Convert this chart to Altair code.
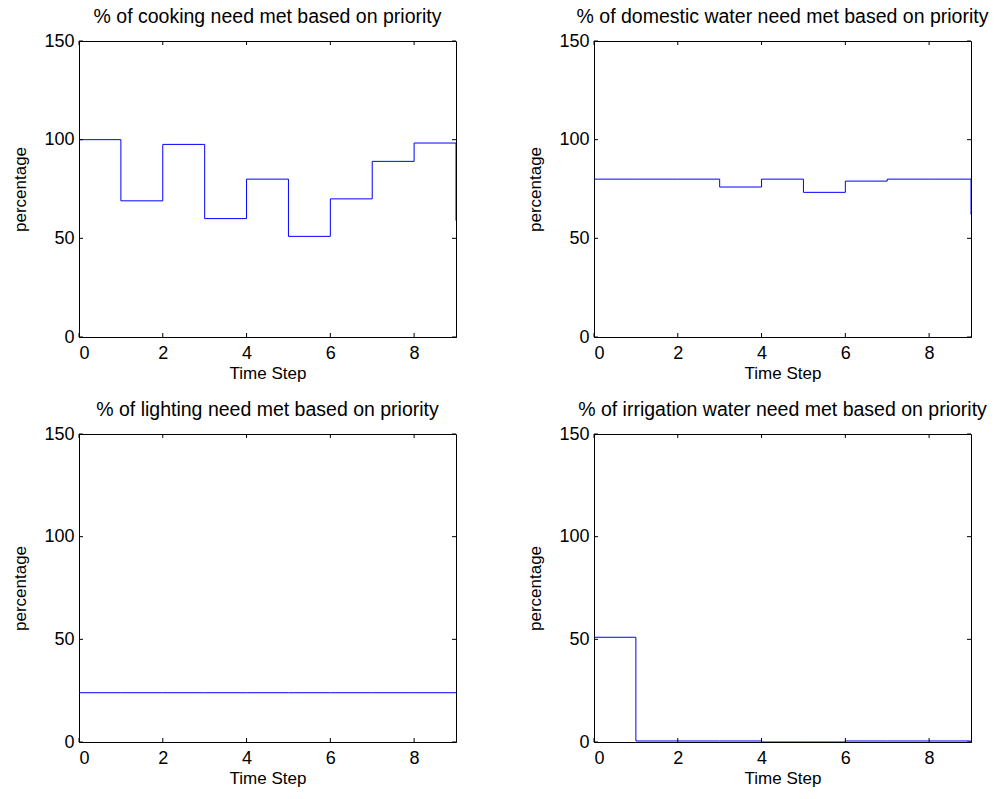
import altair as alt
import pandas as pd

# Time axis and per-step percentages of each need met
time_steps = [0, 1, 2, 3, 4, 5, 6, 7, 8, 9]
cooking = [100, 69, 97.6, 60, 80, 51, 70, 89, 98.3, 59]
domestic_water = [80, 80, 80, 76, 80, 73.3, 79, 80, 80, 62]
lighting = [24, 24, 24, 24, 24, 24, 24, 24, 24, 24]
irrigation = [51, 0.5, 0.5, 0.5, 0, 0, 0.5, 0.5, 0.5, 0.5]

titles = [
    "% of cooking need met based on priority",
    "% of domestic water need met based on priority",
    "% of lighting need met based on priority",
    "% of irrigation water need met based on priority",
]

x_ticks = [0, 2, 4, 6, 8]
y_ticks = [0, 50, 100, 150]
x_domain = [0, 9]
y_domain = [0, 150]

FONT = "Liberation Sans"
BLUE = "#0000FF"
TICK_LEN = 4


def panel(title, values, width, height):
    df = pd.DataFrame({"t": time_steps, "pct": values})
    xs = alt.Scale(domain=x_domain, nice=False, zero=False)
    ys = alt.Scale(domain=y_domain, nice=False)

    line = alt.Chart(df).mark_line(
        interpolate="step-after", color=BLUE, strokeWidth=1, clip=True
    ).encode(
        x=alt.X("t:Q", scale=xs, title="Time Step",
                axis=alt.Axis(values=x_ticks, format="d")),
        y=alt.Y("pct:Q", scale=ys, title="percentage",
                axis=alt.Axis(values=y_ticks, format="d")),
    )

    xt = pd.DataFrame({"t": x_ticks})
    yt = pd.DataFrame({"pct": y_ticks})
    tick_style = dict(color="black", strokeWidth=1)

    x_bottom = alt.Chart(xt).mark_rule(**tick_style).encode(
        x=alt.X("t:Q", scale=xs), y=alt.value(height), y2=alt.value(height - TICK_LEN))
    x_top = alt.Chart(xt).mark_rule(**tick_style).encode(
        x=alt.X("t:Q", scale=xs), y=alt.value(0), y2=alt.value(TICK_LEN))
    y_left = alt.Chart(yt).mark_rule(**tick_style).encode(
        y=alt.Y("pct:Q", scale=ys), x=alt.value(0), x2=alt.value(TICK_LEN))
    y_right = alt.Chart(yt).mark_rule(**tick_style).encode(
        y=alt.Y("pct:Q", scale=ys), x=alt.value(width), x2=alt.value(width - TICK_LEN))

    return alt.layer(line, x_bottom, x_top, y_left, y_right).properties(
        width=width, height=height,
        title=alt.TitleParams(title, fontSize=19.5, font=FONT, fontWeight="normal",
                              color="black", offset=5),
    )


W = 377
top = alt.hconcat(
    panel(titles[0], cooking, W, 296),
    panel(titles[1], domestic_water, W, 296),
    spacing=69,
)
bottom = alt.hconcat(
    panel(titles[2], lighting, W, 308),
    panel(titles[3], irrigation, W, 308),
    spacing=69,
)

chart = alt.vconcat(top, bottom, spacing=17).properties(
    padding={"left": 11, "top": 6, "right": 3, "bottom": 5},
    background="white",
).configure_view(
    stroke="black", strokeWidth=1
).configure_axis(
    grid=False, domainColor="black", domainWidth=1, ticks=False,
    labelFont=FONT, labelFontSize=18, labelColor="black",
    titleFont=FONT, titleFontSize=17, titleColor="black", titleFontWeight="normal",
).configure_axisX(
    labelPadding=7, titlePadding=3,
).configure_axisY(
    labelPadding=5, titlePadding=14,
)

chart.save("out.html", embed_options={"renderer": "svg", "actions": False})
